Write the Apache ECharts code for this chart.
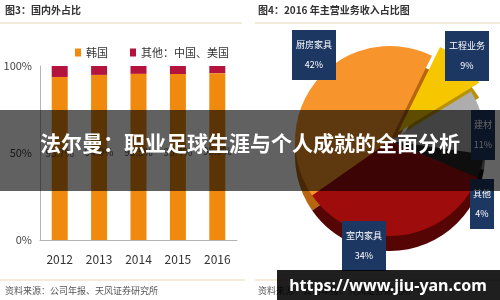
<!DOCTYPE html>
<html>
<head>
<meta charset="utf-8">
<script src="https://cdn.jsdelivr.net/npm/echarts@6/dist/echarts.min.js"></script>
<style>
	html,body{margin:0;padding:0;background:#fff;}
	.js_chart{width:500px;height:300px;}
</style>
</head>
<body>
<div class="js_chart"></div>
<script>
	//图3：国内外占比
	var years = ['2012', '2013', '2014', '2015', '2016'];
	var koreaShare = [93.7, 94.9, 95.5, 95.4, 95.9];
	var otherShare = [6.3, 5.1, 4.5, 4.6, 4.1];
	var yTickStep = 50;
	//图4：2016年主营业务收入占比
	var bizNames = ['厨房家具', '工程业务', '建材', '其他', '室内家具'];
	var bizShare = [42, 9, 11, 4, 34];

	var cjk = '"Noto Sans CJK SC", sans-serif';

	var page = {
		init(){
			var myChart = echarts.init(document.querySelector(".js_chart"));
			myChart.setOption(this.option());
		},
		option(){
			//饼图颜色：顶面 / 侧面
			var topColors = ['#f7952c', '#f6c700', '#adadad', '#262626', '#9e0c0c'];
			var sideColors = ['#b8650f', '#b89200', '#6e6e6e', '#111111', '#560505'];
			//标签框位置
			var labelPos = [[314, 55], [467, 56], [483, 135], [482, 204], [364, 246]];
			var pieCenter = [390, 141];
			var thick = 15;

			function pieData(colors){
				return bizNames.map(function(n, i){
					return {name: n, value: bizShare[i], selected: i == 1, itemStyle: {color: colors[i]}};
				});
			}

			return {
				animation: false,
				textStyle: {fontFamily: cjk},
				legend: {
					data: ['韩国', '其他：中国、美国'],
					left: 70,
					top: 42,
					icon: 'rect',
					itemWidth: 6,
					itemHeight: 8,
					itemGap: 22,
					textStyle: {fontSize: 11, color: '#333', fontFamily: cjk}
				},
				grid: {left: 40, right: 263, top: 66, bottom: 60},
				xAxis: {
					type: 'category',
					data: years,
					axisLine: {lineStyle: {color: '#b5b5b5'}},
					axisTick: {inside: true, length: 4, lineStyle: {color: '#999'}},
					axisLabel: {color: '#333', fontSize: 12, margin: 13}
				},
				yAxis: {
					type: 'value',
					min: 0,
					max: 100,
					interval: yTickStep,
					axisLine: {show: true, lineStyle: {color: '#b5b5b5'}},
					axisTick: {show: false},
					splitLine: {show: false},
					axisLabel: {formatter: '{value}%', color: '#444', fontSize: 11, margin: 8}
				},
				series: [
					{
						name: '韩国',
						type: 'bar',
						stack: 'a',
						barWidth: 16,
						data: koreaShare,
						itemStyle: {color: '#ef8a0e'},
						label: {
							show: true,
							position: 'inside',
							offset: [0, -5],
							formatter: '{c}%',
							color: '#555',
							fontSize: 10
						}
					},
					{
						name: '其他：中国、美国',
						type: 'bar',
						stack: 'a',
						barWidth: 16,
						data: otherShare,
						itemStyle: {color: '#b3133d'}
					},
					//侧面（厚度）
					{
						type: 'pie',
						center: [pieCenter[0], pieCenter[1] + thick],
						radius: 95,
						startAngle: 215,
						selectedMode: 'single',
						selectedOffset: 12,
						silent: true,
						z: 1,
						label: {show: false},
						labelLine: {show: false},
						data: pieData(sideColors)
					},
					//顶面
					{
						type: 'pie',
						center: pieCenter,
						radius: 95,
						startAngle: 215,
						selectedMode: 'single',
						selectedOffset: 12,
						silent: true,
						z: 2,
						label: {show: false},
						labelLine: {show: false},
						data: pieData(topColors)
					},
					//标签（透明扇区承载）
					{
						type: 'pie',
						center: pieCenter,
						radius: 95,
						startAngle: 215,
						silent: true,
						z: 3,
						itemStyle: {color: 'rgba(0,0,0,0)'},
						labelLine: {show: false},
						label: {
							show: true,
							position: 'outside',
							formatter: '{b}\n{c}%',
							backgroundColor: '#1d3763',
							color: '#fff',
							fontSize: 9,
							lineHeight: 20,
							align: 'center',
							overflow: 'none',
							padding: [5, 2],
							fontFamily: cjk
						},
						labelLayout: function(params){
							var p = labelPos[params.dataIndex];
							return {x: p[0], y: p[1], align: 'center', verticalAlign: 'middle'};
						},
						data: bizNames.map(function(n, i){
							return {name: n, value: bizShare[i], label: {width: n.length * 10}};
						})
					}
				],
				graphic: [
					{type: 'text', left: 5, top: 5, style: {text: '图3：国内外占比', font: 'bold 10px ' + cjk, fill: '#333'}},
					{type: 'line', shape: {x1: 0, y1: 23, x2: 242, y2: 23}, style: {stroke: '#e8d5b5', lineWidth: 1}},
					{type: 'text', left: 258, top: 5, style: {text: '图4：2016 年主营业务收入占比图', font: 'bold 10px ' + cjk, fill: '#333'}},
					{type: 'line', shape: {x1: 255, y1: 23, x2: 500, y2: 23}, style: {stroke: '#e8d5b5', lineWidth: 1}},
					{type: 'line', shape: {x1: 0, y1: 280, x2: 245, y2: 280}, style: {stroke: '#e8d5b5', lineWidth: 1}},
					{type: 'line', shape: {x1: 255, y1: 280, x2: 500, y2: 280}, style: {stroke: '#e8d5b5', lineWidth: 1}},
					{type: 'text', left: 5, top: 286, style: {text: '资料来源：公司年报、天风证券研究所', font: '9px ' + cjk, fill: '#555'}},
					{type: 'text', left: 258, top: 286, style: {text: '资料来源：公司年报、天风证券研究所', font: '9px ' + cjk, fill: '#555'}},
					//遮罩横幅
					{type: 'rect', z: 100, shape: {x: 0, y: 110, width: 500, height: 81}, style: {fill: 'rgba(0,0,0,0.62)'}},
					{type: 'text', z: 101, x: 250, y: 143, style: {text: '法尔曼：职业足球生涯与个人成就的全面分析', font: 'bold 21px ' + cjk, fill: '#fff', textAlign: 'center', textVerticalAlign: 'middle'}},
					//水印
					{type: 'rect', z: 100, shape: {x: 277, y: 270, width: 223, height: 30}, style: {fill: 'rgba(0,0,0,0.88)'}},
					{type: 'text', z: 101, x: 388, y: 286, style: {text: 'https://www.jiu-yan.com', font: 'bold 16px "Noto Sans", sans-serif', fill: '#fff', textAlign: 'center', textVerticalAlign: 'middle'}}
				]
			};
		}
	};
	page.init();
</script>
</body>
</html>
